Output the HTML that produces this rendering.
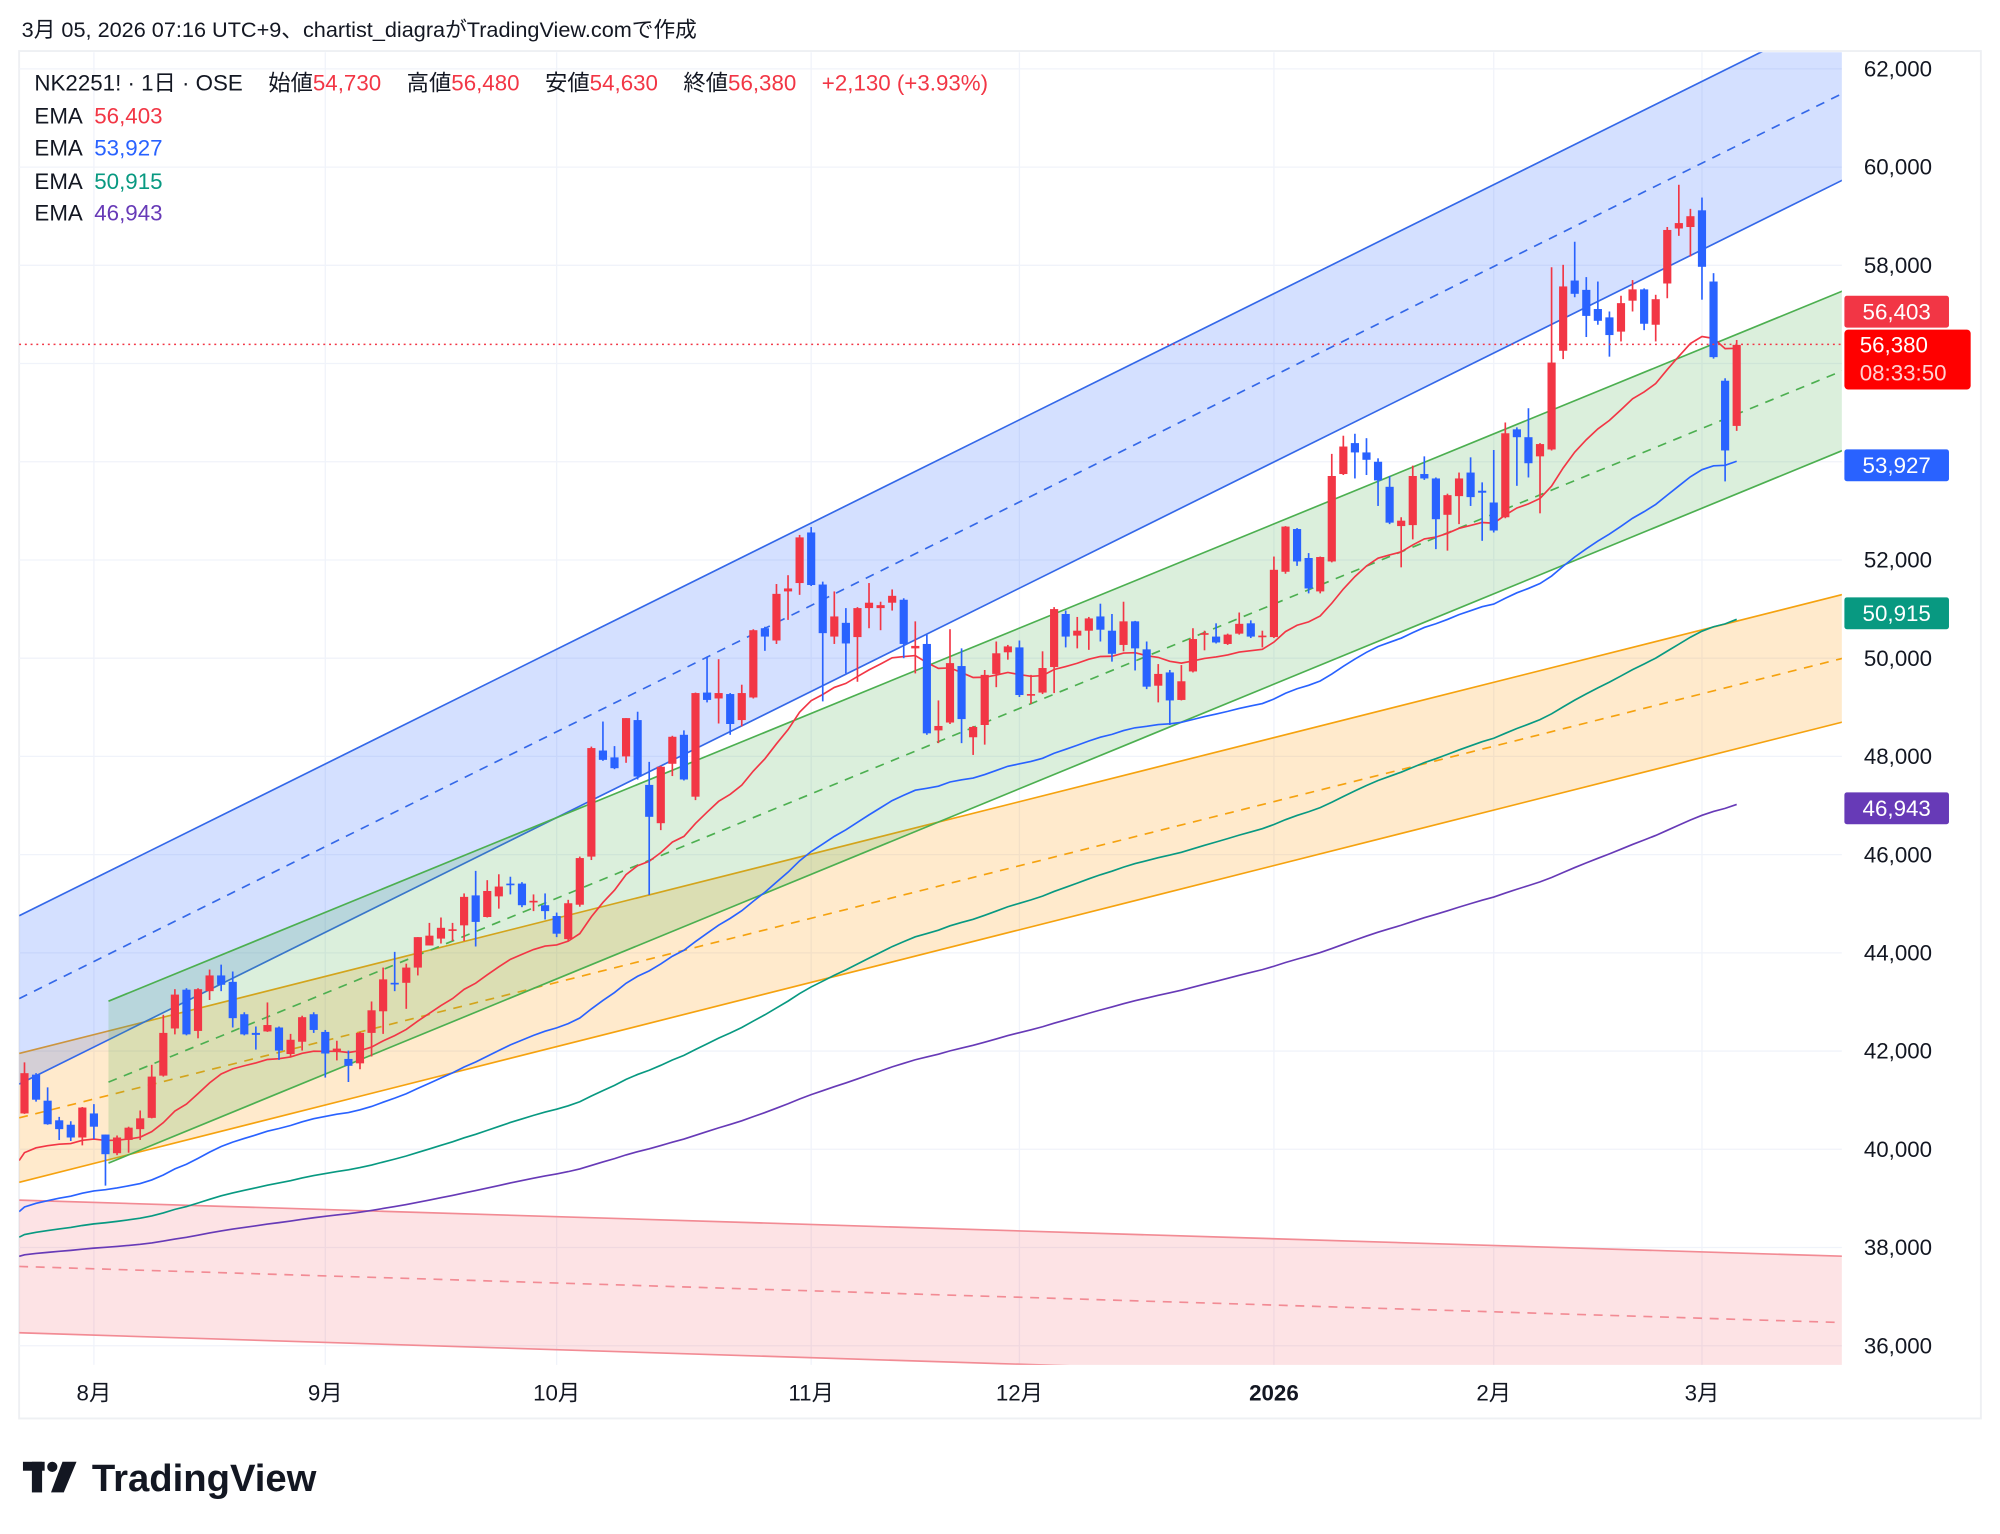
<!DOCTYPE html>
<html><head><meta charset="utf-8">
<style>
html,body{margin:0;padding:0;background:#fff;}
svg{display:block;font-family:"Liberation Sans","Noto Sans CJK JP",sans-serif;}
</style></head>
<body>
<svg id="chart" width="2000" height="1534" viewBox="0 0 1568 1202.6" preserveAspectRatio="none" xmlns="http://www.w3.org/2000/svg">
<defs><clipPath id="plotclip"><rect x="15" y="41" width="1429" height="1029"/></clipPath></defs>
<rect x="0" y="0" width="1568" height="1203" fill="#ffffff"/>
<text x="17" y="29" font-size="17" fill="#131722">3月 05, 2026 07:16 UTC+9、chartist_diagraがTradingView.comで作成</text>
<rect x="15" y="40" width="1538" height="1072" fill="none" stroke="#eef0f3" stroke-width="1.5"/>
<g id="grid"></g>
<g id="channels" clip-path="url(#plotclip)"></g>
<g id="emas" clip-path="url(#plotclip)"></g>
<g id="candles" clip-path="url(#plotclip)"></g>
<line x1="15" x2="1444" y1="270" y2="270" stroke="#f23645" stroke-width="1.2" stroke-dasharray="1.5 3"/>
<g id="yaxis"></g>
<g id="xaxis"></g>
<g id="badges"></g>
<g id="legend">
<text x="27" y="71" font-size="17.5" fill="#131722">NK2251! · 1日 · OSE<tspan dx="20">始値</tspan><tspan fill="#f23645">54,730</tspan><tspan dx="20">高値</tspan><tspan fill="#f23645">56,480</tspan><tspan dx="20">安値</tspan><tspan fill="#f23645">54,630</tspan><tspan dx="20">終値</tspan><tspan fill="#f23645">56,380</tspan><tspan dx="20" fill="#f23645">+2,130 (+3.93%)</tspan></text>
<text x="27" y="97" font-size="17.5" fill="#131722">EMA<tspan dx="9" fill="#f23645">56,403</tspan></text>
<text x="27" y="122" font-size="17.5" fill="#131722">EMA<tspan dx="9" fill="#2962ff">53,927</tspan></text>
<text x="27" y="148" font-size="17.5" fill="#131722">EMA<tspan dx="9" fill="#089981">50,915</tspan></text>
<text x="27" y="173" font-size="17.5" fill="#131722">EMA<tspan dx="9" fill="#673ab7">46,943</tspan></text>
</g>
<g>
<rect x="18" y="1146" width="17" height="7" fill="#131722"/>
<rect x="25" y="1146" width="8" height="24" fill="#131722"/>
<circle cx="41" cy="1150" r="4" fill="#131722"/>
<polygon points="49,1146 60,1146 50,1170 40,1170" fill="#131722"/>
<text x="72" y="1169" font-size="30" font-weight="bold" fill="#131722">TradingView</text>
</g>
</svg>
<script>
const opens=[40730,41520,40990,40590,40500,40240,40730,40300,39920,40190,40410,40640,41500,42460,43250,42410,43220,43540,43410,42750,42370,42400,42480,41940,42190,42750,42390,42000,41840,41750,42370,42810,43390,43390,43700,44150,44290,44460,44560,45170,44730,45150,45410,45410,45040,44970,44750,44280,44980,45960,48120,47980,48000,48740,47420,46640,47850,48440,47180,49300,49180,49270,48740,49200,50610,50360,51360,51530,52560,51500,50440,50720,50430,51020,51020,51130,51190,50200,50290,48530,48690,49840,48390,48640,49680,50120,50220,49250,49300,49820,50900,50460,50560,50850,50560,50270,50750,50180,49440,49710,49150,49730,50500,50440,50290,50500,50710,50440,50430,51760,52630,52040,51360,51970,53750,54380,54190,54000,53490,52690,52710,53750,53660,52920,53300,53780,53410,53170,52870,54660,54500,54110,54250,56260,57690,57500,57110,56940,56650,57280,57510,56790,57630,58750,58780,59120,57670,55650,54730];
const highs=[41770,41550,41260,40660,40570,40860,40920,40300,40280,40460,40790,41720,42740,43260,43280,43280,43660,43760,43620,42790,42500,42990,42500,42350,42720,42790,42430,42210,42010,42390,43010,43700,44020,43780,44320,44610,44720,44610,45210,45670,45480,45600,45550,45440,45190,45210,44820,45080,45960,48200,48710,48210,48780,48910,47890,47810,48420,48530,49300,50030,49980,49290,49460,50590,50640,51510,51690,52510,52670,51560,51360,51020,51040,51530,51150,51400,51220,50750,50480,49140,50590,50200,48620,49760,50340,50270,50360,49660,50140,51040,50970,50840,50840,51110,50900,51150,50760,50340,49880,49760,49860,50610,50560,50710,50500,50930,50770,50560,52070,52690,52650,52140,52070,54160,54530,54570,54480,54070,53710,52870,53920,54110,53680,53350,53780,54090,53580,54240,54800,54700,55090,54380,57960,58010,58480,57760,57670,57060,57380,57700,57530,57400,58780,59640,59150,59380,57840,55700,56480];
const lows=[40720,40970,40500,40190,40170,40080,40210,39260,39880,39930,40190,40630,41480,42340,42320,42260,43040,43220,42480,42320,42030,42390,41820,41880,42010,42370,41460,41810,41370,41630,41890,42350,43220,42860,43540,44150,44190,44240,44240,44130,44720,44900,45190,44930,44850,44680,44320,44240,44940,45890,47910,47740,47870,47530,45180,46500,47600,47510,47110,49100,48670,48440,48610,49180,50150,50290,50780,51290,51470,49120,50290,49690,49520,50610,50570,50970,50000,49690,48440,48270,48660,48270,48030,48240,49410,49970,49210,49070,49270,49290,50220,50200,50170,50340,49930,50140,49750,49370,49100,48640,49140,49710,50160,50300,50270,50480,50410,50220,50410,51720,51880,51320,51320,51950,53730,53660,53730,53100,52730,51850,52420,53630,52220,52190,52730,53100,52390,52560,52850,53510,53680,52950,54230,56090,57350,56540,56790,56140,56450,57060,56680,56450,57330,58600,58180,57300,56100,53600,54630];
const closes=[41550,41010,40510,40410,40240,40850,40460,39900,40240,40440,40630,41480,42370,43150,42340,43260,43540,43350,42670,42340,42330,42530,42010,42230,42690,42430,41950,42050,41700,42370,42830,43460,43380,43700,44320,44350,44510,44480,45140,44630,45260,45350,45390,44970,45060,44850,44390,45010,45930,48170,47930,47760,48780,47590,46770,47790,48400,47530,49290,49150,49290,48660,49290,50570,50440,51310,51420,52460,51490,50510,50850,50300,51020,51130,51080,51270,50290,50250,48470,48620,49900,48760,48600,49660,50100,50240,49250,49270,49800,51000,50440,50560,50810,50580,50090,50750,50200,49420,49680,49140,49530,50390,50510,50320,50480,50700,50440,50460,51800,52680,51970,51420,52060,53710,54310,54190,54040,53620,52760,52800,53710,53660,52830,53320,53660,53280,53370,52600,54580,54500,53970,54360,56020,57570,57420,56970,56870,56580,57230,57510,56810,57310,58720,58860,59000,57970,56130,54230,56380];
const emaPeriods=[21,58,122,235];
const emaSeeds=[39770,38730,38210,37820];
const emaColors=['#f23645','#2962ff','#089981','#673ab7'];
const yTicks=[36000,38000,40000,42000,44000,46000,48000,50000,52000,54000,56000,58000,60000,62000];
const yTickLabels=['36,000','38,000','40,000','42,000','44,000','46,000','48,000','50,000','52,000','54,000','56,000','58,000','60,000','62,000'];
const monthIdx=[6,26,46,68,86,108,127,145];
const monthLabels=['8月','9月','10月','11月','12月','2026','2月','3月'];
const chBlue=[-0.46,157.2,44756,63170,43068,61507,41328,59741];
const chGreen=[7.26,157.2,43016,57481,41367,55858,39718,54235];
const chOrange=[-0.46,157.2,41951,51300,40640,50000,39328,48703];
const chRed=[-0.46,157.2,38965,37822,37614,36471,36264,35095];
const badgePrices=[56403,53927,50915,46943];
const badgeLabels=['56,403','53,927','50,915','46,943'];
const lastPrice=56380, lastLabel='56,380', countdown='08:33:50';

const NS='http://www.w3.org/2000/svg';
const X0=19.2, STEP=9.07;
function xs(i){return X0+i*STEP;}
function ys(p){return 54+(62000-p)/2000*77;}
function mk(tag,attrs,parent){const e=document.createElementNS(NS,tag);for(const k in attrs)e.setAttribute(k,attrs[k]);parent.appendChild(e);return e;}

const grid=document.getElementById('grid');
yTicks.forEach((p,k)=>{
  const l=mk('line',{x1:15,x2:1444,y1:ys(p),y2:ys(p),stroke:'#f0f3fa','stroke-width':1},grid);
  
  
});
monthIdx.forEach(i=>{
  const l=mk('line',{x1:xs(i),x2:xs(i),y1:41,y2:1070,stroke:'#f0f3fa','stroke-width':1},grid);
  
  
});

const chg=document.getElementById('channels');
function channel(c,fill,stroke,name){
  const [i0,i1,u0,u1,m0,m1,l0,l1]=c;
  const poly=mk('polygon',{points:`${xs(i0)},${ys(u0)} ${xs(i1)},${ys(u1)} ${xs(i1)},${ys(l1)} ${xs(i0)},${ys(l0)}`,fill:fill},chg);
  
  
  const a=mk('line',{x1:xs(i0),y1:ys(u0),x2:xs(i1),y2:ys(u1),stroke:stroke,'stroke-width':1.3},chg);
  
  
  const b=mk('line',{x1:xs(i0),y1:ys(m0),x2:xs(i1),y2:ys(m1),stroke:stroke,'stroke-width':1.3,'stroke-dasharray':'7 6'},chg);
  
  
  const d=mk('line',{x1:xs(i0),y1:ys(l0),x2:xs(i1),y2:ys(l1),stroke:stroke,'stroke-width':1.3},chg);
  
  
}
channel(chRed,'rgba(242,54,69,0.14)','#f28b94','red-channel');
channel(chOrange,'rgba(255,152,0,0.2)','#f5a20f','orange-channel');
channel(chBlue,'rgba(41,98,255,0.2)','#3468e8','blue-channel');
channel(chGreen,'rgba(76,175,80,0.2)','#4caf50','green-channel');

const eg=document.getElementById('emas');
emaPeriods.forEach((n,k)=>{
  const a=2/(n+1);let e=emaSeeds[k];const pts=[`${15},${ys(e)}`];
  closes.forEach((c,i)=>{e=a*c+(1-a)*e;pts.push(`${xs(i)},${ys(e)}`);});
  const pl=mk('polyline',{points:pts.join(' '),fill:'none',stroke:emaColors[k],'stroke-width':1.3},eg);
  
  
});

const cg=document.getElementById('candles');
closes.forEach((c,i)=>{
  const o=opens[i],up=c>=o,col=up?'#f23645':'#2962ff';
  const g=mk('g',{},cg);
  
  
  mk('line',{x1:xs(i),x2:xs(i),y1:ys(highs[i]),y2:ys(lows[i]),stroke:col,'stroke-width':1.3},g);
  const top=ys(Math.max(o,c)),bot=ys(Math.min(o,c));
  mk('rect',{x:xs(i)-3.2,y:top,width:6.4,height:Math.max(1.3,bot-top),fill:col},g);
});

const ya=document.getElementById('yaxis');
yTicks.forEach((p,k)=>{
  const t=mk('text',{x:1488,y:ys(p)+6,'font-size':17.5,'text-anchor':'middle',fill:'#131722'},ya);
  t.textContent=yTickLabels[k];
  
  
});
const xa=document.getElementById('xaxis');
monthIdx.forEach((i,k)=>{
  const t=mk('text',{x:xs(i),y:1098,'font-size':17.5,'text-anchor':'middle',fill:'#131722','font-weight':monthLabels[k]==='2026'?'bold':'normal'},xa);
  t.textContent=monthLabels[k];
  
  
});

const bg=document.getElementById('badges');
const lastY=ys(lastPrice);
badgePrices.forEach((p,k)=>{
  let y=ys(p);
  if(Math.abs(y-lastY)<26) y=lastY-26;
  const r=mk('rect',{x:1446,y:y-12.5,width:82,height:25,rx:2,fill:emaColors[k]},bg);
  
  
  const t=mk('text',{x:1487,y:y+6,'font-size':17.5,'text-anchor':'middle',fill:'#ffffff'},bg);
  t.textContent=badgeLabels[k];
  
  
});
{
  const y=lastY;
  const r=mk('rect',{x:1446,y:y-12,width:99,height:47,rx:3,fill:'#ff0000'},bg);
  
  
  const t=mk('text',{x:1458,y:y+6,'font-size':17.5,fill:'#ffffff'},bg);
  t.textContent=lastLabel;
  
  
  const t2=mk('text',{x:1458,y:y+28,'font-size':17.5,fill:'#ffd0d0'},bg);
  t2.textContent=countdown;
  
  
}
</script>
</body></html>
